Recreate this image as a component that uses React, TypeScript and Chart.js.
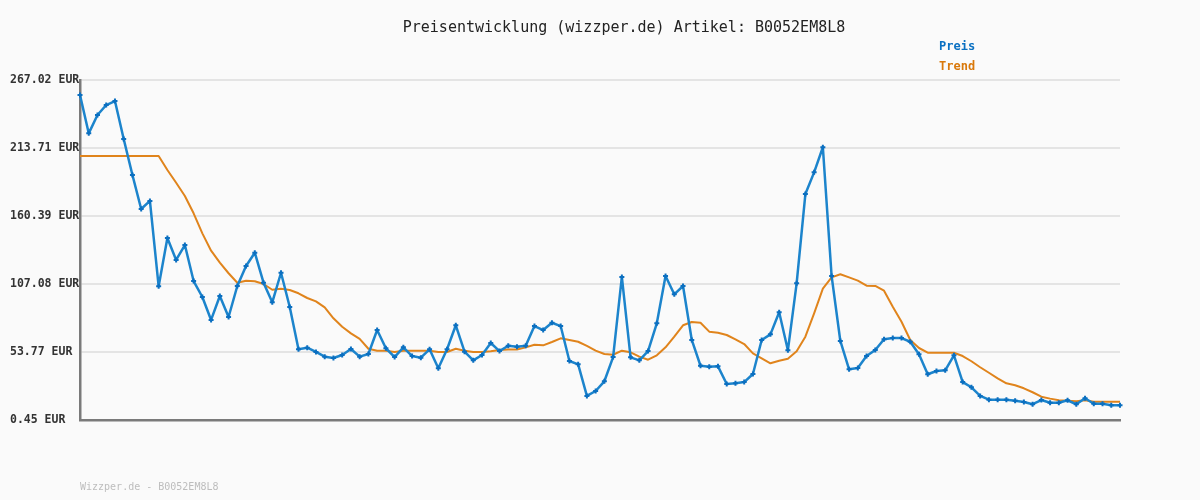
import { useEffect, useRef } from "react";
import { Chart, registerables } from "chart.js";

Chart.register(...registerables);

const titleText = "Preisentwicklung (wizzper.de) Artikel: B0052EM8L8";
const footerText = "Wizzper.de - B0052EM8L8";
const seriesNames = ["Preis", "Trend"];

const preis = [
  255.3, 225.2, 239.6, 247.4, 250.5, 220.8, 192.5, 165.9, 172.2, 105.3,
  143.1, 125.9, 137.6, 109.4, 96.9, 78.9, 97.7, 81.2, 105.5, 121.2,
  131.6, 108.1, 92.7, 115.9, 89.0, 55.9, 57.1, 53.8, 50.1, 49.1,
  51.4, 56.1, 50.1, 52.2, 71.0, 56.7, 49.8, 57.4, 50.6, 49.3,
  55.9, 41.0, 55.9, 74.7, 54.0, 47.2, 51.4, 60.8, 54.5, 58.7,
  57.9, 58.7, 74.1, 71.0, 76.7, 74.1, 46.7, 44.1, 19.3, 23.2,
  30.8, 49.8, 112.6, 49.6, 47.2, 54.5, 76.3, 113.4, 99.0, 105.5,
  63.2, 43.0, 42.2, 42.5, 28.7, 29.2, 30.2, 36.5, 63.2, 67.6,
  84.9, 55.1, 107.6, 177.6, 194.6, 214.3, 113.4, 62.4, 40.2, 41.2,
  50.6, 55.3, 63.7, 64.7, 64.7, 61.8, 52.0, 36.3, 38.9, 39.4,
  51.2, 30.2, 26.1, 19.3, 16.4, 16.4, 16.4, 15.6, 14.6, 12.8,
  16.1, 14.0, 14.0, 15.9, 12.8, 17.5, 13.2, 13.2, 12.0, 12.0,
];

const trend = [
  207.4, 207.4, 207.4, 207.4, 207.4, 207.4, 207.4, 207.4, 207.4, 207.4,
  196.5, 186.5, 176.1, 162.5, 146.8, 133.2, 123.8, 115.5, 108.1, 109.7,
  109.2, 107.1, 102.6, 103.4, 102.4, 99.8, 96.1, 93.5, 88.8, 80.2,
  73.6, 68.4, 64.0, 56.3, 54.8, 54.8, 53.8, 54.8, 54.8, 54.8,
  54.8, 53.8, 53.8, 56.3, 54.8, 53.8, 53.8, 54.3, 55.3, 55.8,
  55.8, 57.4, 59.5, 59.0, 61.6, 64.5, 63.2, 61.8, 58.5, 54.8,
  52.2, 51.6, 54.8, 53.5, 50.1, 47.7, 51.2, 57.4, 65.8, 74.7,
  77.3, 76.7, 69.7, 68.9, 67.1, 63.7, 60.0, 52.7, 48.8, 44.9,
  46.9, 48.5, 54.3, 65.8, 84.1, 103.4, 112.3, 114.7, 112.3, 109.7,
  105.8, 105.6, 101.8, 89.3, 77.5, 63.2, 56.9, 53.2, 53.2, 53.2,
  53.2, 50.6, 46.5, 41.8, 37.5, 33.1, 29.2, 27.7, 25.3, 22.2,
  18.7, 17.2, 15.9, 15.6, 15.1, 15.9, 14.8, 14.8, 14.8, 14.8,
];

const categories = preis.map((_, i) => String(i + 1));

const yTickValues = [0.45, 53.77, 107.08, 160.39, 213.71, 267.02];
const yTickLabels = ["0.45 EUR", "53.77 EUR", "107.08 EUR", "160.39 EUR", "213.71 EUR", "267.02 EUR"];

const MONO = '"DejaVu Sans Mono", "Liberation Mono", monospace';
const BLUE = "#1c84cc";
const BLUE_PT = "#0b6fc0";
const ORANGE = "#e0841c";

const decorPlugin = {
  id: "decor",
  beforeDraw(chart: any) {
    const ctx = chart.ctx;
    ctx.save();
    ctx.fillStyle = "#fafafa";
    ctx.fillRect(0, 0, chart.width, chart.height);
    ctx.restore();
  },
  afterDraw(chart: any) {
    const ctx = chart.ctx;
    ctx.save();
    ctx.textBaseline = "middle";
    ctx.fillStyle = "#222222";
    ctx.font = `15px ${MONO}`;
    ctx.textAlign = "center";
    ctx.fillText(titleText, 624, 28);

    ctx.textAlign = "left";
    ctx.font = `bold 12px ${MONO}`;
    ctx.fillStyle = "#0a70c2";
    ctx.fillText(seriesNames[0], 939, 47);
    ctx.fillStyle = "#d9780a";
    ctx.fillText(seriesNames[1], 939, 67);

    ctx.font = `10px ${MONO}`;
    ctx.fillStyle = "#bdbdbd";
    ctx.fillText(footerText, 80, 487);
    ctx.restore();
  },
};

export default function App() {
  const ref = useRef<HTMLCanvasElement | null>(null);

  useEffect(() => {
    if (!ref.current) return;
    const chart = new Chart(ref.current, {
      type: "line",
      data: {
        labels: categories,
        datasets: [
          {
            label: seriesNames[0],
            data: preis,
            borderColor: BLUE,
            backgroundColor: BLUE_PT,
            borderWidth: 2.5,
            borderJoinStyle: "round",
            pointStyle: "cross",
            pointRadius: 2.5,
            pointBorderWidth: 2,
            pointBorderColor: BLUE_PT,
            pointBackgroundColor: BLUE_PT,
            tension: 0,
            clip: 8,
          },
          {
            label: seriesNames[1],
            data: trend,
            borderColor: ORANGE,
            borderWidth: 2,
            borderJoinStyle: "round",
            pointRadius: 0,
            tension: 0,
            clip: 8,
          },
        ],
      },
      options: {
        responsive: false,
        animation: false,
        layout: { padding: { left: 10, right: 80, top: 80, bottom: 80 } },
        plugins: {
          legend: { display: false },
          title: { display: false },
          tooltip: { enabled: false },
        },
        scales: {
          x: {
            type: "category",
            offset: false,
            ticks: { display: false },
            grid: { display: false, drawTicks: false },
            border: { display: true, color: "#7a7a7a", width: 2.5 },
          },
          y: {
            min: 0.45,
            max: 267.02,
            afterBuildTicks: (scale: any) => {
              scale.ticks = yTickValues.map((v) => ({ value: v }));
            },
            afterFit: (scale: any) => {
              scale.width = 70;
            },
            ticks: {
              crossAlign: "far",
              padding: 0,
              color: "#333333",
              font: { family: MONO, size: 11.5, weight: "bold" },
              callback: (_v: any, i: number) => yTickLabels[i],
            },
            grid: { color: "#e4e4e4", lineWidth: 2, drawTicks: false },
            border: { display: true, color: "#7a7a7a", width: 2.5 },
          },
        },
      },
      plugins: [decorPlugin],
    } as any);
    return () => chart.destroy();
  }, []);

  return (
    <div style={{ position: "fixed", left: 0, top: 0, width: 1200, height: 500, background: "#fafafa" }}>
      <canvas ref={ref} width={1200} height={500} style={{ display: "block" }} />
    </div>
  );
}
